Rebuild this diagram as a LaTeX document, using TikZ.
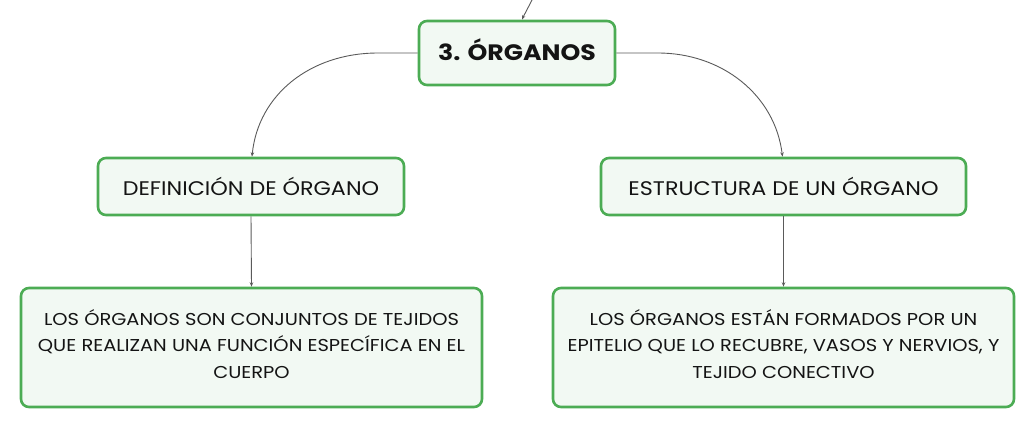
\documentclass[tikz,border=0pt]{standalone}
\usepackage{fontspec}
\setmainfont{Poppins}[FakeStretch=1.13]
\usetikzlibrary{arrows.meta,calc}
\definecolor{boxgreen}{RGB}{76,172,84}
\definecolor{boxfill}{RGB}{242,249,243}
\definecolor{linegray}{RGB}{90,90,90}
\newcommand{\lowstrut}[1]{\rule[-#1]{0pt}{#1}}
\tikzset{
  box/.style={draw=boxgreen, fill=boxfill, line width=2.6pt, rounded corners=8pt,
    inner sep=0pt, align=center, text=black!92},
  conn/.style={draw=linegray, line width=0.9pt, -{Stealth[length=4.5pt,width=3.5pt]}},
}
\begin{document}
\begin{tikzpicture}[x=1pt,y=-1pt]
\useasboundingbox (0,0) rectangle (1035,429);
\node[box, minimum width=196pt, minimum height=64pt, font=\bfseries\fontsize{22.3}{26}\selectfont] (top) at (517,53) {3. ÓRGANOS\lowstrut{6pt}};
\node[box, minimum width=306pt, minimum height=57pt, font=\fontsize{19.7}{23}\selectfont] (ldef) at (251,186.5) {DEFINICIÓN DE ÓRGANO};
\node[box, minimum width=365pt, minimum height=57pt, font=\fontsize{19.7}{23}\selectfont] (rest) at (783.5,186.5) {ESTRUCTURA DE UN ÓRGANO};
\node[box, minimum width=461pt, minimum height=119pt, font=\fontsize{17.2}{26.5}\selectfont] (lbody) at (251.5,347.5) {LOS ÓRGANOS SON CONJUNTOS DE TEJIDOS\\QUE REALIZAN UNA FUNCIÓN ESPECÍFICA EN EL\\CUERPO\lowstrut{7pt}};
\node[box, minimum width=461pt, minimum height=119pt, font=\fontsize{17.2}{26.5}\selectfont] (rbody) at (783.5,347.5) {LOS ÓRGANOS ESTÁN FORMADOS POR UN\\EPITELIO QUE LO RECUBRE, VASOS Y NERVIOS, Y\\TEJIDO CONECTIVO\lowstrut{7pt}};
\coordinate (up) at (532,0);
\draw[conn] (up) .. controls (527,8) .. ([xshift=5pt]top.north);
\draw[conn] (top.west) -- (378,53) .. controls (310,53) and (258,95) .. ([xshift=1pt]ldef.north);
\draw[conn] (top.east) -- (658,53) .. controls (722,53) and (775,95) .. ([xshift=-1pt]rest.north);
\draw[conn] (ldef.south) -- (lbody.north);
\draw[conn] (rest.south) -- (rbody.north);
\end{tikzpicture}
\end{document}
